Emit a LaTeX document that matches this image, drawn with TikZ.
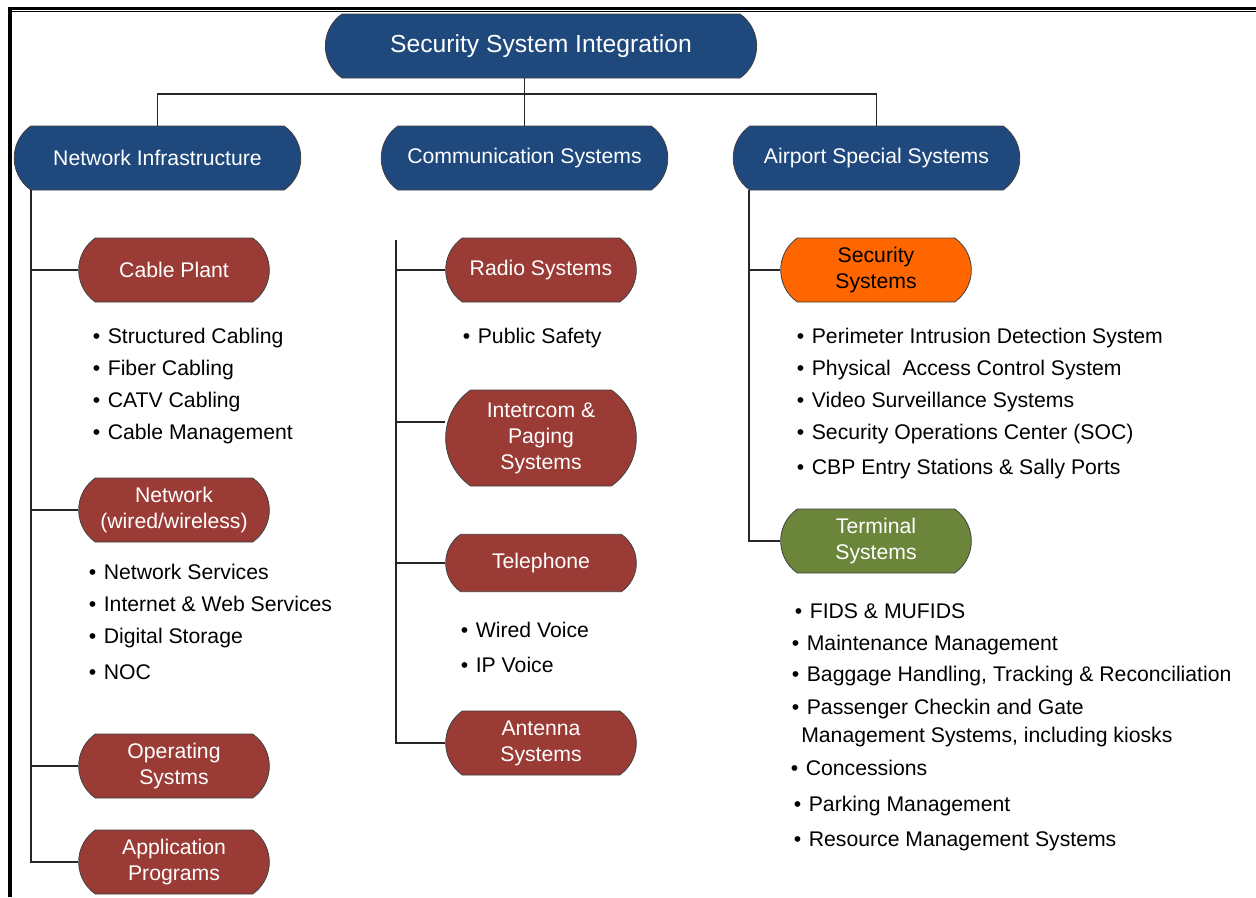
\documentclass[tikz,border=0pt]{standalone}
\usepackage{fontspec}
\setmainfont{Liberation Sans}
\usetikzlibrary{shapes.misc}

\definecolor{hdblue}{HTML}{1F497D}
\definecolor{subred}{HTML}{9B3B36}
\definecolor{secorange}{HTML}{FF6600}
\definecolor{termgreen}{HTML}{6B853A}

\newcommand{\bodyfont}{\fontsize{15.9}{19.5}\selectfont}
\newcommand{\titlefont}{\fontsize{18.5}{22}\selectfont}
\newcommand{\bu}{•\hspace{0.36em}}

\begin{document}
\begin{tikzpicture}[
  x=0.75pt, y=-0.75pt,
  pill/.style={rounded rectangle, rounded rectangle arc length=110, draw=black!75, line width=0.6pt, align=center, inner sep=2pt, text=white, font=\bodyfont},
  head/.style={pill, fill=hdblue, minimum width=219pt, minimum height=48pt},
  sub/.style={pill, fill=subred, minimum width=147pt, minimum height=48pt},
  item/.style={anchor=base west, inner sep=0pt, font=\bodyfont},
  link/.style={line width=0.9pt, black!85}
]
  \useasboundingbox (0,0) rectangle (1256,897);

  % frame
  \fill (8,7) rectangle (1256,9.5);
  \draw[line width=1pt] (12,11.5) -- (1256,11.5);
  \fill (8,7) rectangle (12,897);

  % top levels
  \node[pill, fill=hdblue, minimum width=327.5pt, minimum height=48pt, font=\titlefont] (title) at (541,46) {Security System Integration};
  \node[head] (ni)   at (157.5,158) {Network Infrastructure};
  \node[head] (comm) at (524.5,158) {Communication Systems};
  \node[head] (asys) at (876.5,158) {Airport Special Systems};

  % network infrastructure
  \node[sub] (cable) at (174,270) {Cable Plant};
  \node[sub] (net)   at (174,510) {Network\\(wired/wireless)};
  \node[sub] (ops)   at (174,766) {Operating\\Systms};
  \node[sub] (apps)  at (174,862) {Application\\Programs};

  \node[item] (cp1) at (92.5,343) {\bu Structured Cabling};
  \node[item] (cp2) at (92.5,375) {\bu Fiber Cabling};
  \node[item] (cp3) at (92.5,407) {\bu CATV Cabling};
  \node[item] (cp4) at (92.5,439) {\bu Cable Management};

  \node[item] (nw1) at (88.5,579) {\bu Network Services};
  \node[item] (nw2) at (88.5,611) {\bu Internet \& Web Services};
  \node[item] (nw3) at (88.5,643) {\bu Digital Storage};
  \node[item] (nw4) at (88.5,679) {\bu NOC};

  % communication systems
  \node[sub] (radio) at (541,270) {Radio Systems};
  \node[sub, minimum height=72pt] (icom) at (541,438) {Intetrcom \&\\Paging\\Systems};
  \node[sub, minimum height=43pt] (tel) at (541,563) {Telephone};
  \node[sub] (ant) at (541,743) {Antenna\\Systems};

  \node[item] (rs1) at (462.5,343) {\bu Public Safety};
  \node[item] (tp1) at (460.5,637) {\bu Wired Voice};
  \node[item] (tp2) at (460.5,672) {\bu IP Voice};

  % airport special systems
  \node[pill, fill=secorange, text=black, minimum width=147pt, minimum height=48pt] (sec) at (876,270) {Security\\Systems};
  \node[pill, fill=termgreen, minimum width=147pt, minimum height=48pt] (term) at (876,541) {Terminal\\Systems};

  \node[item] (ss1) at (796.5,343) {\bu Perimeter Intrusion Detection System};
  \node[item] (ss2) at (796.5,375) {\bu Physical~ Access Control System};
  \node[item] (ss3) at (796.5,407) {\bu Video Surveillance Systems};
  \node[item] (ss4) at (796.5,439) {\bu Security Operations Center (SOC)};
  \node[item] (ss5) at (796.5,474) {\bu CBP Entry Stations \& Sally Ports};

  \node[item] (ts1) at (794.5,618) {\bu FIDS \& MUFIDS};
  \node[item] (ts2) at (791.5,650) {\bu Maintenance Management};
  \node[item] (ts3) at (791.5,681) {\bu Baggage Handling, Tracking \& Reconciliation};
  \node[item] (ts4) at (791.5,714) {\bu Passenger Checkin and Gate};
  \node[item] (ts5) at (801,742) {Management Systems, including kiosks};
  \node[item] (ts6) at (790.5,775) {\bu Concessions};
  \node[item] (ts7) at (793.5,811) {\bu Parking Management};
  \node[item] (ts8) at (793.5,846) {\bu Resource Management Systems};

  % connectors
  \coordinate (bus) at (524.5,94);
  \draw[link] (ni.north) |- (bus) -| (asys.north);
  \draw[link] (comm.north |- title.south) -- (comm.north);

  \coordinate (ltop) at (31,190);
  \draw[link] (ltop) |- (apps.west);
  \draw[link] (cable.west) -- (cable.west -| ltop);
  \draw[link] (net.west) -- (net.west -| ltop);
  \draw[link] (ops.west) -- (ops.west -| ltop);

  \coordinate (mtop) at (396,240);
  \coordinate (icomjoin) at ([yshift=12pt]icom.west);
  \draw[link] (mtop) |- (ant.west);
  \draw[link] (radio.west) -- (radio.west -| mtop);
  \draw[link] (icomjoin) -- (icomjoin -| mtop);
  \draw[link] (tel.west) -- (tel.west -| mtop);

  \coordinate (rtop) at (749,190);
  \draw[link] (rtop) |- (term.west);
  \draw[link] (sec.west) -- (sec.west -| rtop);
\end{tikzpicture}
\end{document}
